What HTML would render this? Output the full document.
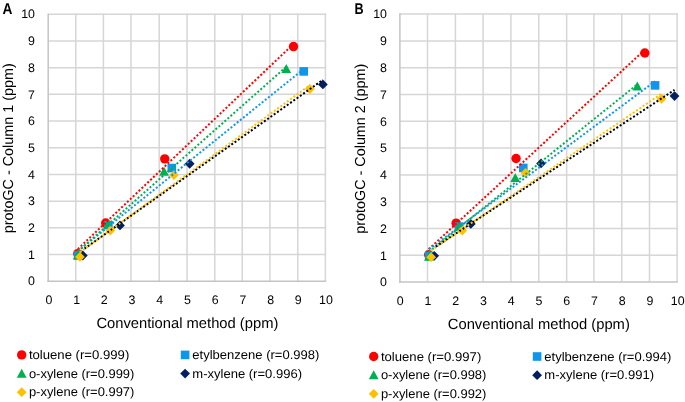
<!DOCTYPE html>
<html><head><meta charset="utf-8"><style>
html,body{margin:0;padding:0;background:#fff;}
svg{display:block;font-family:"Liberation Sans", sans-serif;will-change:transform;}
svg text{fill:#000;text-rendering:geometricPrecision;}
</style></head><body>
<svg width="685" height="402" viewBox="0 0 685 402">
<rect width="685" height="402" fill="#fff"/>
<line x1="75.80" y1="13.50" x2="75.80" y2="281.25" stroke="#d6d6d6" stroke-width="1.5"/>
<line x1="103.40" y1="13.50" x2="103.40" y2="281.25" stroke="#d6d6d6" stroke-width="1.5"/>
<line x1="131.00" y1="13.50" x2="131.00" y2="281.25" stroke="#d6d6d6" stroke-width="1.5"/>
<line x1="159.20" y1="13.50" x2="159.20" y2="281.25" stroke="#d6d6d6" stroke-width="1.5"/>
<line x1="187.05" y1="13.50" x2="187.05" y2="281.25" stroke="#d6d6d6" stroke-width="1.5"/>
<line x1="214.80" y1="13.50" x2="214.80" y2="281.25" stroke="#d6d6d6" stroke-width="1.5"/>
<line x1="242.20" y1="13.50" x2="242.20" y2="281.25" stroke="#d6d6d6" stroke-width="1.5"/>
<line x1="269.90" y1="13.50" x2="269.90" y2="281.25" stroke="#d6d6d6" stroke-width="1.5"/>
<line x1="297.80" y1="13.50" x2="297.80" y2="281.25" stroke="#d6d6d6" stroke-width="1.5"/>
<line x1="325.40" y1="13.50" x2="325.40" y2="281.25" stroke="#d6d6d6" stroke-width="1.5"/>
<line x1="48.20" y1="254.55" x2="326.15" y2="254.55" stroke="#d6d6d6" stroke-width="1.5"/>
<line x1="48.20" y1="227.85" x2="326.15" y2="227.85" stroke="#d6d6d6" stroke-width="1.5"/>
<line x1="48.20" y1="201.15" x2="326.15" y2="201.15" stroke="#d6d6d6" stroke-width="1.5"/>
<line x1="48.20" y1="174.45" x2="326.15" y2="174.45" stroke="#d6d6d6" stroke-width="1.5"/>
<line x1="48.20" y1="147.75" x2="326.15" y2="147.75" stroke="#d6d6d6" stroke-width="1.5"/>
<line x1="48.20" y1="121.05" x2="326.15" y2="121.05" stroke="#d6d6d6" stroke-width="1.5"/>
<line x1="48.20" y1="94.35" x2="326.15" y2="94.35" stroke="#d6d6d6" stroke-width="1.5"/>
<line x1="48.20" y1="67.65" x2="326.15" y2="67.65" stroke="#d6d6d6" stroke-width="1.5"/>
<line x1="48.20" y1="40.95" x2="326.15" y2="40.95" stroke="#d6d6d6" stroke-width="1.5"/>
<line x1="48.20" y1="14.25" x2="326.15" y2="14.25" stroke="#d6d6d6" stroke-width="1.5"/>
<line x1="48.20" y1="13.50" x2="48.20" y2="282.00" stroke="#c4c4c4" stroke-width="1.5"/>
<line x1="47.45" y1="281.25" x2="326.15" y2="281.25" stroke="#c4c4c4" stroke-width="1.5"/>
<text x="35.0" y="285.4" text-anchor="end" font-size="12.4">0</text>
<text x="35.0" y="258.8" text-anchor="end" font-size="12.4">1</text>
<text x="35.0" y="232.0" text-anchor="end" font-size="12.4">2</text>
<text x="35.0" y="205.3" text-anchor="end" font-size="12.4">3</text>
<text x="35.0" y="178.6" text-anchor="end" font-size="12.4">4</text>
<text x="35.0" y="151.9" text-anchor="end" font-size="12.4">5</text>
<text x="35.0" y="125.3" text-anchor="end" font-size="12.4">6</text>
<text x="35.0" y="98.5" text-anchor="end" font-size="12.4">7</text>
<text x="35.0" y="71.9" text-anchor="end" font-size="12.4">8</text>
<text x="35.0" y="45.2" text-anchor="end" font-size="12.4">9</text>
<text x="35.0" y="18.4" text-anchor="end" font-size="12.4">10</text>
<text x="48.9" y="304.1" text-anchor="middle" font-size="12.4">0</text>
<text x="76.6" y="304.1" text-anchor="middle" font-size="12.4">1</text>
<text x="104.3" y="304.1" text-anchor="middle" font-size="12.4">2</text>
<text x="132.0" y="304.1" text-anchor="middle" font-size="12.4">3</text>
<text x="159.7" y="304.1" text-anchor="middle" font-size="12.4">4</text>
<text x="187.5" y="304.1" text-anchor="middle" font-size="12.4">5</text>
<text x="215.2" y="304.1" text-anchor="middle" font-size="12.4">6</text>
<text x="242.9" y="304.1" text-anchor="middle" font-size="12.4">7</text>
<text x="270.6" y="304.1" text-anchor="middle" font-size="12.4">8</text>
<text x="298.3" y="304.1" text-anchor="middle" font-size="12.4">9</text>
<text x="326.0" y="304.1" text-anchor="middle" font-size="12.4">10</text>
<text x="187.4" y="327.9" text-anchor="middle" font-size="14.8" textLength="182" lengthAdjust="spacingAndGlyphs">Conventional method (ppm)</text>
<text transform="translate(13.049999999999997,148.3) rotate(-90)" x="0" y="0" text-anchor="middle" font-size="14.5" textLength="170" lengthAdjust="spacingAndGlyphs">protoGC - Column 1 (ppm)</text>
<text transform="translate(2.6,13.9) scale(0.88,1)" font-size="15.6" font-weight="bold" text-rendering="geometricPrecision">A</text>
<circle cx="77.83" cy="253.62" r="4.70" fill="#ff0000"/>
<circle cx="105.69" cy="223.04" r="4.70" fill="#ff0000"/>
<circle cx="164.74" cy="158.83" r="4.70" fill="#ff0000"/>
<circle cx="293.49" cy="46.56" r="4.70" fill="#ff0000"/>
<rect x="73.81" y="251.05" width="8.60" height="8.60" fill="#0f96ea"/>
<rect x="104.03" y="220.88" width="8.60" height="8.60" fill="#0f96ea"/>
<rect x="167.50" y="163.74" width="8.60" height="8.60" fill="#0f96ea"/>
<rect x="299.45" y="67.09" width="8.60" height="8.60" fill="#0f96ea"/>
<polygon points="77.83,250.40 82.73,259.40 72.93,259.40" fill="#00b050"/>
<polygon points="107.77,219.43 112.67,228.43 102.87,228.43" fill="#00b050"/>
<polygon points="164.04,166.83 168.94,175.83 159.14,175.83" fill="#00b050"/>
<polygon points="286.29,64.04 291.19,73.04 281.39,73.04" fill="#00b050"/>
<polygon points="82.82,250.58 87.72,255.48 82.82,260.38 77.92,255.48" fill="#002060"/>
<polygon points="119.97,220.55 124.87,225.45 119.97,230.35 115.07,225.45" fill="#002060"/>
<polygon points="189.68,158.87 194.58,163.77 189.68,168.67 184.78,163.77" fill="#002060"/>
<polygon points="322.88,79.57 327.78,84.47 322.88,89.37 317.98,84.47" fill="#002060"/>
<polygon points="79.91,252.05 84.81,256.95 79.91,261.85 75.01,256.95" fill="#ffc000"/>
<polygon points="110.27,225.62 115.17,230.52 110.27,235.42 105.37,230.52" fill="#ffc000"/>
<polygon points="173.88,170.22 178.78,175.12 173.88,180.02 168.98,175.12" fill="#ffc000"/>
<polygon points="309.85,84.11 314.75,89.01 309.85,93.91 304.95,89.01" fill="#ffc000"/>
<line x1="77.83" y1="249.11" x2="293.49" y2="43.98" stroke="#ff0000" stroke-width="2" stroke-dasharray="2 2"/>
<line x1="78.11" y1="250.98" x2="303.75" y2="68.96" stroke="#0f96ea" stroke-width="2" stroke-dasharray="2 2"/>
<line x1="77.83" y1="251.47" x2="286.29" y2="66.75" stroke="#00b050" stroke-width="2" stroke-dasharray="2 2"/>
<line x1="82.82" y1="249.84" x2="322.88" y2="79.89" stroke="#000000" stroke-width="2" stroke-dasharray="2 2" stroke-dashoffset="2"/>
<line x1="79.91" y1="252.36" x2="309.85" y2="85.15" stroke="#ffc000" stroke-width="2" stroke-dasharray="2 2"/>
<circle cx="21.70" cy="354.90" r="4.70" fill="#ff0000"/>
<text x="28.9" y="359.0" font-size="12.6" textLength="100.4" lengthAdjust="spacingAndGlyphs">toluene (r=0.999)</text>
<rect x="180.80" y="350.60" width="8.60" height="8.60" fill="#0f96ea"/>
<text x="192.3" y="359.0" font-size="12.6" textLength="127.1" lengthAdjust="spacingAndGlyphs">etylbenzene (r=0.998)</text>
<polygon points="21.70,368.65 26.60,377.65 16.80,377.65" fill="#00b050"/>
<text x="28.9" y="377.7" font-size="12.6" textLength="105.5" lengthAdjust="spacingAndGlyphs">o-xylene (r=0.999)</text>
<polygon points="185.10,368.70 190.00,373.60 185.10,378.50 180.20,373.60" fill="#002060"/>
<text x="192.3" y="377.7" font-size="12.6" textLength="109.7" lengthAdjust="spacingAndGlyphs">m-xylene (r=0.996)</text>
<polygon points="21.70,387.30 26.60,392.20 21.70,397.10 16.80,392.20" fill="#ffc000"/>
<text x="28.9" y="396.3" font-size="12.6" textLength="105.5" lengthAdjust="spacingAndGlyphs">p-xylene (r=0.997)</text>
<line x1="427.50" y1="13.35" x2="427.50" y2="282.10" stroke="#d6d6d6" stroke-width="1.5"/>
<line x1="455.40" y1="13.35" x2="455.40" y2="282.10" stroke="#d6d6d6" stroke-width="1.5"/>
<line x1="483.10" y1="13.35" x2="483.10" y2="282.10" stroke="#d6d6d6" stroke-width="1.5"/>
<line x1="510.90" y1="13.35" x2="510.90" y2="282.10" stroke="#d6d6d6" stroke-width="1.5"/>
<line x1="538.80" y1="13.35" x2="538.80" y2="282.10" stroke="#d6d6d6" stroke-width="1.5"/>
<line x1="566.65" y1="13.35" x2="566.65" y2="282.10" stroke="#d6d6d6" stroke-width="1.5"/>
<line x1="593.90" y1="13.35" x2="593.90" y2="282.10" stroke="#d6d6d6" stroke-width="1.5"/>
<line x1="621.80" y1="13.35" x2="621.80" y2="282.10" stroke="#d6d6d6" stroke-width="1.5"/>
<line x1="649.50" y1="13.35" x2="649.50" y2="282.10" stroke="#d6d6d6" stroke-width="1.5"/>
<line x1="677.10" y1="13.35" x2="677.10" y2="282.10" stroke="#d6d6d6" stroke-width="1.5"/>
<line x1="399.90" y1="255.30" x2="677.85" y2="255.30" stroke="#d6d6d6" stroke-width="1.5"/>
<line x1="399.90" y1="228.50" x2="677.85" y2="228.50" stroke="#d6d6d6" stroke-width="1.5"/>
<line x1="399.90" y1="201.70" x2="677.85" y2="201.70" stroke="#d6d6d6" stroke-width="1.5"/>
<line x1="399.90" y1="174.90" x2="677.85" y2="174.90" stroke="#d6d6d6" stroke-width="1.5"/>
<line x1="399.90" y1="148.10" x2="677.85" y2="148.10" stroke="#d6d6d6" stroke-width="1.5"/>
<line x1="399.90" y1="121.30" x2="677.85" y2="121.30" stroke="#d6d6d6" stroke-width="1.5"/>
<line x1="399.90" y1="94.50" x2="677.85" y2="94.50" stroke="#d6d6d6" stroke-width="1.5"/>
<line x1="399.90" y1="67.70" x2="677.85" y2="67.70" stroke="#d6d6d6" stroke-width="1.5"/>
<line x1="399.90" y1="40.90" x2="677.85" y2="40.90" stroke="#d6d6d6" stroke-width="1.5"/>
<line x1="399.90" y1="14.10" x2="677.85" y2="14.10" stroke="#d6d6d6" stroke-width="1.5"/>
<line x1="399.90" y1="13.35" x2="399.90" y2="282.85" stroke="#c4c4c4" stroke-width="1.5"/>
<line x1="399.15" y1="282.10" x2="677.85" y2="282.10" stroke="#c4c4c4" stroke-width="1.5"/>
<text x="387.0" y="286.3" text-anchor="end" font-size="12.4">0</text>
<text x="387.0" y="259.5" text-anchor="end" font-size="12.4">1</text>
<text x="387.0" y="232.7" text-anchor="end" font-size="12.4">2</text>
<text x="387.0" y="205.9" text-anchor="end" font-size="12.4">3</text>
<text x="387.0" y="179.1" text-anchor="end" font-size="12.4">4</text>
<text x="387.0" y="152.3" text-anchor="end" font-size="12.4">5</text>
<text x="387.0" y="125.5" text-anchor="end" font-size="12.4">6</text>
<text x="387.0" y="98.7" text-anchor="end" font-size="12.4">7</text>
<text x="387.0" y="71.9" text-anchor="end" font-size="12.4">8</text>
<text x="387.0" y="45.1" text-anchor="end" font-size="12.4">9</text>
<text x="387.0" y="18.3" text-anchor="end" font-size="12.4">10</text>
<text x="400.2" y="304.9" text-anchor="middle" font-size="12.4">0</text>
<text x="427.9" y="304.9" text-anchor="middle" font-size="12.4">1</text>
<text x="455.7" y="304.9" text-anchor="middle" font-size="12.4">2</text>
<text x="483.4" y="304.9" text-anchor="middle" font-size="12.4">3</text>
<text x="511.2" y="304.9" text-anchor="middle" font-size="12.4">4</text>
<text x="538.9" y="304.9" text-anchor="middle" font-size="12.4">5</text>
<text x="566.7" y="304.9" text-anchor="middle" font-size="12.4">6</text>
<text x="594.4" y="304.9" text-anchor="middle" font-size="12.4">7</text>
<text x="622.2" y="304.9" text-anchor="middle" font-size="12.4">8</text>
<text x="649.9" y="304.9" text-anchor="middle" font-size="12.4">9</text>
<text x="677.7" y="304.9" text-anchor="middle" font-size="12.4">10</text>
<text x="538.8" y="328.7" text-anchor="middle" font-size="14.8" textLength="182" lengthAdjust="spacingAndGlyphs">Conventional method (ppm)</text>
<text transform="translate(365.05,148.7) rotate(-90)" x="0" y="0" text-anchor="middle" font-size="14.5" textLength="170" lengthAdjust="spacingAndGlyphs">protoGC - Column 2 (ppm)</text>
<text transform="translate(354.6,13.9) scale(0.81,1)" font-size="15.6" font-weight="bold" text-rendering="geometricPrecision">B</text>
<circle cx="428.66" cy="254.76" r="4.70" fill="#ff0000"/>
<circle cx="456.13" cy="223.14" r="4.70" fill="#ff0000"/>
<circle cx="516.07" cy="158.55" r="4.70" fill="#ff0000"/>
<circle cx="644.83" cy="52.96" r="4.70" fill="#ff0000"/>
<rect x="424.92" y="251.80" width="8.60" height="8.60" fill="#0f96ea"/>
<rect x="454.88" y="222.32" width="8.60" height="8.60" fill="#0f96ea"/>
<rect x="518.99" y="163.63" width="8.60" height="8.60" fill="#0f96ea"/>
<rect x="650.80" y="81.09" width="8.60" height="8.60" fill="#0f96ea"/>
<polygon points="428.94,251.69 433.84,260.69 424.04,260.69" fill="#00b050"/>
<polygon points="459.19,221.67 464.08,230.67 454.29,230.67" fill="#00b050"/>
<polygon points="515.24,172.90 520.14,181.90 510.34,181.90" fill="#00b050"/>
<polygon points="637.34,81.51 642.24,90.51 632.44,90.51" fill="#00b050"/>
<polygon points="434.21,250.94 439.11,255.84 434.21,260.74 429.31,255.84" fill="#002060"/>
<polygon points="470.84,219.04 475.74,223.94 470.84,228.84 465.94,223.94" fill="#002060"/>
<polygon points="541.05,158.48 545.95,163.38 541.05,168.28 536.15,163.38" fill="#002060"/>
<polygon points="674.53,91.21 679.43,96.11 674.53,101.01 669.63,96.11" fill="#002060"/>
<polygon points="431.16,252.28 436.06,257.18 431.16,262.08 426.26,257.18" fill="#ffc000"/>
<polygon points="462.24,225.61 467.14,230.51 462.24,235.41 457.34,230.51" fill="#ffc000"/>
<polygon points="525.51,168.12 530.41,173.02 525.51,177.92 520.61,173.02" fill="#ffc000"/>
<polygon points="661.48,93.89 666.38,98.79 661.48,103.69 656.58,98.79" fill="#ffc000"/>
<line x1="428.66" y1="249.18" x2="644.83" y2="49.81" stroke="#ff0000" stroke-width="2" stroke-dasharray="2 2"/>
<line x1="429.22" y1="249.24" x2="655.10" y2="81.26" stroke="#0f96ea" stroke-width="2" stroke-dasharray="2 2"/>
<line x1="428.94" y1="251.91" x2="637.34" y2="84.35" stroke="#00b050" stroke-width="2" stroke-dasharray="2 2"/>
<line x1="434.21" y1="247.71" x2="674.53" y2="89.89" stroke="#000000" stroke-width="2" stroke-dasharray="2 2" stroke-dashoffset="2"/>
<line x1="431.16" y1="250.43" x2="661.48" y2="93.61" stroke="#ffc000" stroke-width="2" stroke-dasharray="2 2"/>
<circle cx="373.70" cy="356.50" r="4.70" fill="#ff0000"/>
<text x="380.9" y="360.6" font-size="12.6" textLength="100.4" lengthAdjust="spacingAndGlyphs">toluene (r=0.997)</text>
<rect x="532.80" y="352.20" width="8.60" height="8.60" fill="#0f96ea"/>
<text x="544.3" y="360.6" font-size="12.6" textLength="127.1" lengthAdjust="spacingAndGlyphs">etylbenzene (r=0.994)</text>
<polygon points="373.70,370.25 378.60,379.25 368.80,379.25" fill="#00b050"/>
<text x="380.9" y="379.3" font-size="12.6" textLength="105.5" lengthAdjust="spacingAndGlyphs">o-xylene (r=0.998)</text>
<polygon points="537.10,370.30 542.00,375.20 537.10,380.10 532.20,375.20" fill="#002060"/>
<text x="544.3" y="379.3" font-size="12.6" textLength="109.7" lengthAdjust="spacingAndGlyphs">m-xylene (r=0.991)</text>
<polygon points="373.70,388.90 378.60,393.80 373.70,398.70 368.80,393.80" fill="#ffc000"/>
<text x="380.9" y="397.9" font-size="12.6" textLength="105.5" lengthAdjust="spacingAndGlyphs">p-xylene (r=0.992)</text>
</svg>
</body></html>
